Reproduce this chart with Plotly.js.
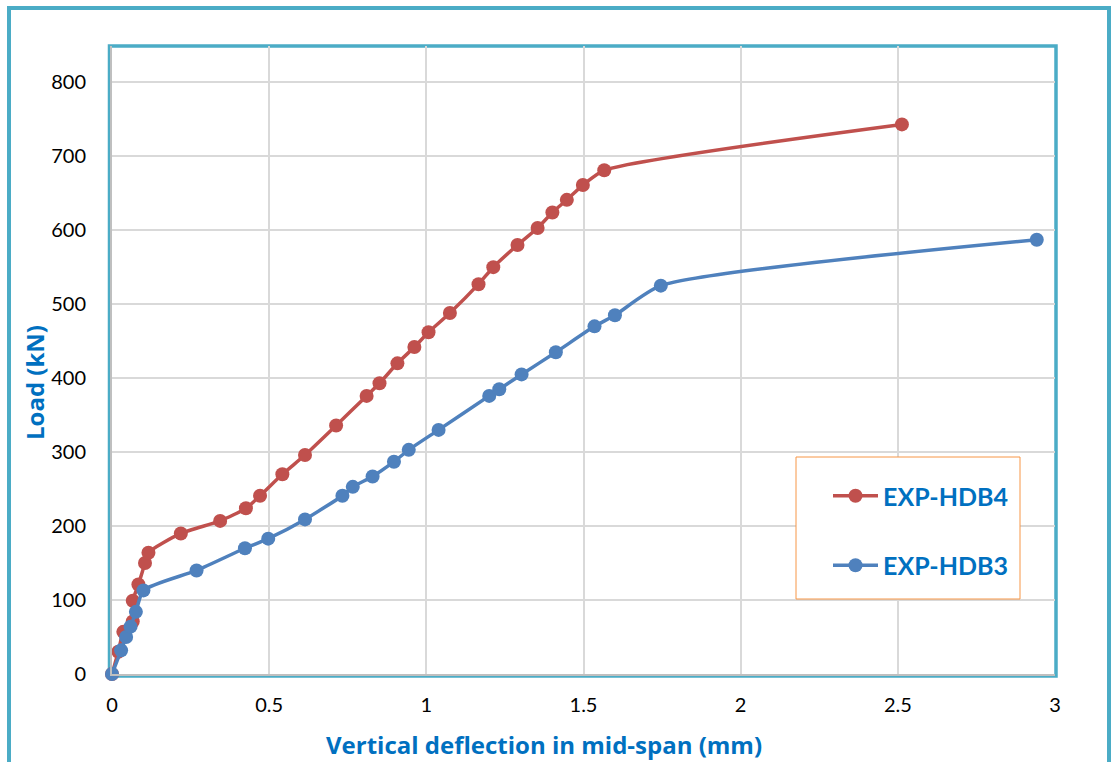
<!DOCTYPE html>
<html>
<head>
<meta charset="utf-8">
<script src="https://cdn.plot.ly/plotly-3.0.1.min.js"></script>
<style>
  html, body { margin: 0; padding: 0; background: #ffffff; }
  #chart { width: 1111px; height: 762px; }
</style>
</head>
<body>
<div id="chart"></div>
<script>
// Load–deflection results of the two tested beams
const seriesNames = ['EXP-HDB4', 'EXP-HDB3'];

const hdb4Deflection = [0, 0.020, 0.036, 0.066, 0.066, 0.084, 0.105, 0.116, 0.219, 0.344,
  0.426, 0.471, 0.542, 0.614, 0.713, 0.810, 0.851, 0.908, 0.962, 1.007,
  1.075, 1.166, 1.213, 1.290, 1.354, 1.401, 1.447, 1.498, 1.566, 2.513];
const hdb4Load = [0, 30, 57, 71, 99, 121, 150, 164, 190, 207,
  224, 241, 270, 296, 336, 376, 393, 420, 442, 462,
  488, 527, 550, 580, 603, 624, 641, 661, 681, 743];

const hdb3Deflection = [0, 0.029, 0.045, 0.059, 0.076, 0.100, 0.269, 0.423, 0.497, 0.614,
  0.733, 0.766, 0.829, 0.897, 0.944, 1.039, 1.200, 1.232, 1.303, 1.412,
  1.535, 1.600, 1.746, 2.942];
const hdb3Load = [0, 32, 50, 64, 84, 113, 140, 170, 183, 209,
  241, 253, 267, 287, 303, 330, 376, 385, 405, 435,
  470, 485, 525, 587];

const xTickValues = [0, 0.5, 1, 1.5, 2, 2.5, 3];
const xTickLabels = ['0', '0.5', '1', '1.5', '2', '2.5', '3'];
const yTickValues = [0, 100, 200, 300, 400, 500, 600, 700, 800];
const yTickLabels = ['0', '100', '200', '300', '400', '500', '600', '700', '800'];

const xTitle = 'Vertical deflection in mid-span (mm)';
const yTitle = 'Load (kN)';

const RED = '#C0504D';
const BLUE = '#4F81BD';
const TEAL = '#4BACC6';
const TITLE_BLUE = '#0070C0';
const FONT = 'Lato, "Open Sans", "DejaVu Sans", sans-serif';
const TITLE_FONT = '"Open Sans", Lato, "DejaVu Sans", sans-serif';

// plot-area geometry in pixels, used to place frames around it
const W = 1111, H = 762;
const M = { l: 112, r: 56, t: 46, b: 88 };
const PW = W - M.l - M.r, PH = H - M.t - M.b;
const px = x => (x - M.l) / PW;          // page x  -> paper x
const py = y => (H - M.b - y) / PH;      // page y  -> paper y

function curve(name, xs, ys, color) {
  return {
    type: 'scatter', mode: 'lines+markers', name: name,
    x: xs, y: ys, legendgroup: name,
    line: { color: color, width: 3.5, shape: 'spline', smoothing: 0.6 },
    marker: { color: color, size: 14, symbol: 'circle' },
    cliponaxis: false
  };
}

const data = [
  curve(seriesNames[0], hdb4Deflection, hdb4Load, RED),
  curve(seriesNames[1], hdb3Deflection, hdb3Load, BLUE)
];

const layout = {
  width: W, height: H,
  margin: M,
  paper_bgcolor: '#ffffff', plot_bgcolor: '#ffffff',
  font: { family: FONT, size: 20, color: '#000000' },
  showlegend: true,
  legend: {
    x: px(828), y: py(473), xanchor: 'left', yanchor: 'top',
    bgcolor: 'rgba(0,0,0,0)', borderwidth: 0,
    traceorder: 'grouped', tracegroupgap: 34, itemwidth: 45,
    font: { family: FONT, size: 25, color: TITLE_BLUE, weight: 'bold' }
  },
  xaxis: {
    range: [0, 3], tickvals: xTickValues, ticktext: xTickLabels,
    showgrid: true, gridcolor: '#D9D9D9', gridwidth: 2,
    zeroline: false, showline: true, linecolor: '#BFBFBF', linewidth: 2,
    ticks: '', ticklabelstandoff: 12,
    tickfont: { family: FONT, size: 20, color: '#000000' }
  },
  yaxis: {
    range: [0, 849], tickvals: yTickValues, ticktext: yTickLabels,
    showgrid: true, gridcolor: '#D9D9D9', gridwidth: 2,
    zeroline: false, showline: true, linecolor: '#BFBFBF', linewidth: 2,
    ticks: '', ticklabelstandoff: 20,
    tickfont: { family: FONT, size: 20, color: '#000000' }
  },
  shapes: [
    // outer chart frame
    { type: 'rect', xref: 'paper', yref: 'paper', layer: 'below',
      x0: px(9), x1: px(1109), y0: py(780), y1: py(8),
      line: { color: TEAL, width: 4 }, fillcolor: 'rgba(0,0,0,0)' },
    // plot-area frame
    { type: 'rect', xref: 'paper', yref: 'paper', layer: 'below',
      x0: px(109.5), x1: px(1056), y0: py(676), y1: py(46),
      line: { color: TEAL, width: 3.5 }, fillcolor: 'rgba(0,0,0,0)' },
    // legend box
    { type: 'rect', xref: 'paper', yref: 'paper', layer: 'above',
      x0: px(796), x1: px(1020), y0: py(599), y1: py(457),
      line: { color: '#F79646', width: 1 }, fillcolor: '#ffffff' }
  ],
  annotations: [
    { text: xTitle, xref: 'paper', yref: 'paper', x: px(544), y: py(744),
      xanchor: 'center', yanchor: 'middle', showarrow: false,
      font: { family: TITLE_FONT, size: 24, color: TITLE_BLUE, weight: 'bold' } },
    { text: yTitle, xref: 'paper', yref: 'paper', x: px(35), y: py(383),
      xanchor: 'center', yanchor: 'middle', showarrow: false, textangle: -90,
      font: { family: TITLE_FONT, size: 24, color: TITLE_BLUE, weight: 'bold' } }
  ]
};

Plotly.newPlot('chart', data, layout, { displayModeBar: false, staticPlot: true });
</script>
</body>
</html>
